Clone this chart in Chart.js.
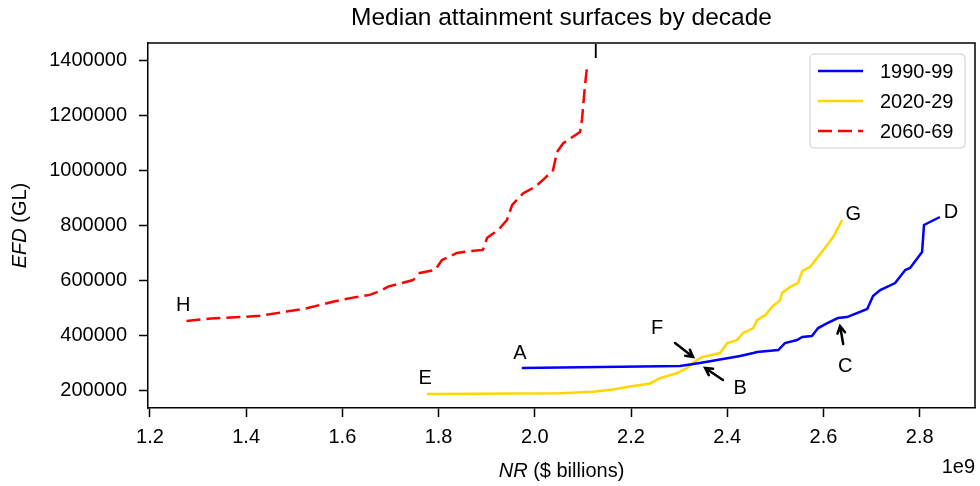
<!DOCTYPE html>
<html>
<head>
<meta charset="utf-8">
<script src="https://cdn.jsdelivr.net/npm/chart.js@4.4.0/dist/chart.umd.min.js"></script>
<style>
  html, body { margin: 0; padding: 0; background: #fff; }
  #wrap { width: 980px; height: 486px; }
</style>
</head>
<body>
<div id="wrap"><canvas id="chart" width="980" height="486"></canvas></div>
<script>
  'use strict';

  // NR in units of 1e9 $, EFD in GL
  const xTicks = [1.2, 1.4, 1.6, 1.8, 2.0, 2.2, 2.4, 2.6, 2.8];
  const yTicks = [200000, 400000, 600000, 800000, 1000000, 1200000, 1400000];

  const nr1990 = [1.973, 2.302, 2.343, 2.391, 2.427, 2.454, 2.462, 2.506, 2.520, 2.545, 2.556, 2.576, 2.589, 2.608, 2.630, 2.649, 2.691, 2.703, 2.718, 2.749, 2.770, 2.780, 2.805, 2.809, 2.842];
  const efd1990 = [280000, 287500, 298500, 313000, 324000, 335000, 338600, 346000, 371400, 382400, 393300, 397000, 426000, 444300, 462600, 466200, 495400, 542800, 564700, 590200, 637600, 645000, 703300, 801800, 831000];

  const nr2020 = [1.776, 2.052, 2.121, 2.163, 2.198, 2.240, 2.260, 2.296, 2.316, 2.337, 2.348, 2.385, 2.400, 2.420, 2.433, 2.454, 2.462, 2.479, 2.493, 2.510, 2.514, 2.531, 2.547, 2.556, 2.572, 2.603, 2.620, 2.639];
  const efd2020 = [186000, 188000, 194000, 202000, 213000, 224000, 243000, 262000, 280000, 309000, 320000, 335000, 371000, 382000, 408000, 426000, 455000, 473000, 503000, 528000, 554000, 576000, 590000, 634000, 649000, 718000, 758000, 820000];

  const nr2060 = [1.276, 1.327, 1.387, 1.429, 1.484, 1.526, 1.580, 1.622, 1.657, 1.678, 1.695, 1.747, 1.761, 1.793, 1.807, 1.838, 1.865, 1.892, 1.901, 1.924, 1.942, 1.953, 1.976, 2.000, 2.021, 2.038, 2.046, 2.059, 2.094, 2.098, 2.104, 2.109];
  const efd2060 = [452000, 461000, 466000, 471000, 486000, 498000, 522000, 537000, 547000, 561000, 577000, 601000, 627000, 638000, 674000, 700000, 707000, 711000, 755000, 784000, 820000, 875000, 918000, 940000, 973000, 1002000, 1068000, 1100000, 1141000, 1185000, 1305000, 1386000];

  const seriesNames = ['1990-99', '2020-29', '2060-69'];
  const seriesColors = ['#0000ff', '#ffd700', '#ff0000'];

  const labelNames = ['A', 'B', 'C', 'D', 'E', 'F', 'G', 'H', 'I'];
  const labelNR = [1.969, 2.427, 2.645, 2.865, 1.772, 2.254, 2.662, 1.269, 2.127];
  const labelEFD = [335000, 207000, 287500, 849000, 243800, 426000, 841900, 510000, 1430000];

  // arrows: [tailNR, tailEFD, headNR, headEFD]
  const arrows = [
    [2.2915, 371400, 2.329, 320400],
    [2.391, 236500, 2.354, 280200],
    [2.641, 367800, 2.6345, 433400]
  ];

  const FONT = '"Liberation Sans", Arial, sans-serif';

  function pts(xs, ys) {
    return xs.map(function (x, i) { return { x: x, y: ys[i] }; });
  }

  const overlay = {
    id: 'overlay',
    afterDraw: function (chart) {
      const ctx = chart.ctx;
      const a = chart.chartArea;
      const sx = chart.scales.x;
      const sy = chart.scales.y;
      ctx.save();

      // top and right spines
      ctx.strokeStyle = '#000';
      ctx.lineWidth = 1.5;
      ctx.beginPath();
      ctx.moveTo(a.left, a.top);
      ctx.lineTo(a.right, a.top);
      ctx.lineTo(a.right, a.bottom);
      ctx.stroke();

      // annotations
      ctx.fillStyle = '#000';
      ctx.font = '20px ' + FONT;
      ctx.textAlign = 'center';
      ctx.textBaseline = 'middle';
      labelNames.forEach(function (t, i) {
        ctx.fillText(t, sx.getPixelForValue(labelNR[i]), sy.getPixelForValue(labelEFD[i]));
      });

      ctx.lineWidth = 2.5;
      ctx.lineCap = 'round';
      arrows.forEach(function (ar) {
        const x0 = sx.getPixelForValue(ar[0]), y0 = sy.getPixelForValue(ar[1]);
        const x1 = sx.getPixelForValue(ar[2]), y1 = sy.getPixelForValue(ar[3]);
        const ang = Math.atan2(y1 - y0, x1 - x0);
        const h = 8;
        ctx.beginPath();
        ctx.moveTo(x0, y0);
        ctx.lineTo(x1, y1);
        ctx.moveTo(x1 - h * Math.cos(ang - 0.5), y1 - h * Math.sin(ang - 0.5));
        ctx.lineTo(x1, y1);
        ctx.lineTo(x1 - h * Math.cos(ang + 0.5), y1 - h * Math.sin(ang + 0.5));
        ctx.stroke();
      });

      // legend
      const lx = 810, ly = 54, lw = 155, lh = 94;
      ctx.lineWidth = 1;
      ctx.strokeStyle = '#cccccc';
      ctx.fillStyle = 'rgba(255,255,255,0.8)';
      ctx.beginPath();
      ctx.roundRect(lx, ly, lw, lh, 4);
      ctx.fill();
      ctx.stroke();
      ctx.font = '20px ' + FONT;
      ctx.textAlign = 'left';
      seriesNames.forEach(function (name, i) {
        const yy = 71 + i * 30;
        ctx.strokeStyle = seriesColors[i];
        ctx.lineWidth = 2.5;
        ctx.lineCap = 'butt';
        ctx.setLineDash(i === 2 ? [14, 6] : []);
        ctx.beginPath();
        ctx.moveTo(818, yy);
        ctx.lineTo(863, yy);
        ctx.stroke();
        ctx.setLineDash([]);
        ctx.fillStyle = '#000';
        ctx.fillText(name, 880, yy + 1);
      });

      // title
      ctx.fillStyle = '#000';
      ctx.textAlign = 'center';
      ctx.font = '24.5px ' + FONT;
      ctx.fillText('Median attainment surfaces by decade', (a.left + a.right) / 2, 18);

      // x title with italic part
      ctx.font = 'italic 20px ' + FONT;
      const p1 = 'NR';
      const w1 = ctx.measureText(p1).width;
      ctx.font = '20px ' + FONT;
      const p2 = ' ($ billions)';
      const w2 = ctx.measureText(p2).width;
      let x = (a.left + a.right) / 2 - (w1 + w2) / 2;
      ctx.textAlign = 'left';
      ctx.font = 'italic 20px ' + FONT;
      ctx.fillText(p1, x, 471);
      ctx.font = '20px ' + FONT;
      ctx.fillText(p2, x + w1, 471);

      // offset text
      ctx.textAlign = 'right';
      ctx.fillText('1e9', 975, 467);

      // y title
      ctx.translate(20, (a.top + a.bottom) / 2);
      ctx.rotate(-Math.PI / 2);
      ctx.font = 'italic 20px ' + FONT;
      const q1 = 'EFD';
      const v1 = ctx.measureText(q1).width;
      ctx.font = '20px ' + FONT;
      const q2 = ' (GL)';
      const v2 = ctx.measureText(q2).width;
      x = -(v1 + v2) / 2;
      ctx.textAlign = 'left';
      ctx.font = 'italic 20px ' + FONT;
      ctx.fillText(q1, x, 0);
      ctx.font = '20px ' + FONT;
      ctx.fillText(q2, x + v1, 0);

      ctx.restore();
    }
  };

  new Chart(document.getElementById('chart'), {
    type: 'line',
    data: {
      datasets: [
        {
          label: seriesNames[0],
          data: pts(nr1990, efd1990),
          borderColor: seriesColors[0],
          borderWidth: 2.5,
          pointRadius: 0,
          tension: 0
        },
        {
          label: seriesNames[1],
          data: pts(nr2020, efd2020),
          borderColor: seriesColors[1],
          borderWidth: 2.5,
          pointRadius: 0,
          tension: 0
        },
        {
          label: seriesNames[2],
          data: pts(nr2060, efd2060),
          borderColor: seriesColors[2],
          borderWidth: 2.5,
          borderDash: [14, 6],
          pointRadius: 0,
          tension: 0
        }
      ]
    },
    options: {
      responsive: false,
      animation: false,
      layout: { padding: { top: 43, right: 5, left: 0, bottom: 0 } },
      plugins: {
        legend: { display: false },
        tooltip: { enabled: false }
      },
      scales: {
        x: {
          type: 'linear',
          min: 1.196,
          max: 2.915,
          afterBuildTicks: function (s) { s.ticks = xTicks.map(function (v) { return { value: v }; }); },
          afterFit: function (s) { s.height = 78; },
          ticks: {
            color: '#000',
            font: { family: FONT, size: 20 },
            padding: 8,
            maxRotation: 0,
            callback: function (v) { return v.toFixed(1); }
          },
          grid: { drawOnChartArea: false, tickLength: 9, tickColor: '#000', tickWidth: 1.5 },
          border: { color: '#000', width: 1.5 }
        },
        y: {
          type: 'linear',
          min: 134500,
          max: 1465500,
          afterBuildTicks: function (s) { s.ticks = yTicks.map(function (v) { return { value: v }; }); },
          afterFit: function (s) { s.width = 148; },
          ticks: {
            color: '#000',
            font: { family: FONT, size: 20 },
            padding: 12,
            callback: function (v) { return String(v); }
          },
          grid: { drawOnChartArea: false, tickLength: 9, tickColor: '#000', tickWidth: 1.5 },
          border: { color: '#000', width: 1.5 }
        }
      }
    },
    plugins: [overlay]
  });
</script>
</body>
</html>
